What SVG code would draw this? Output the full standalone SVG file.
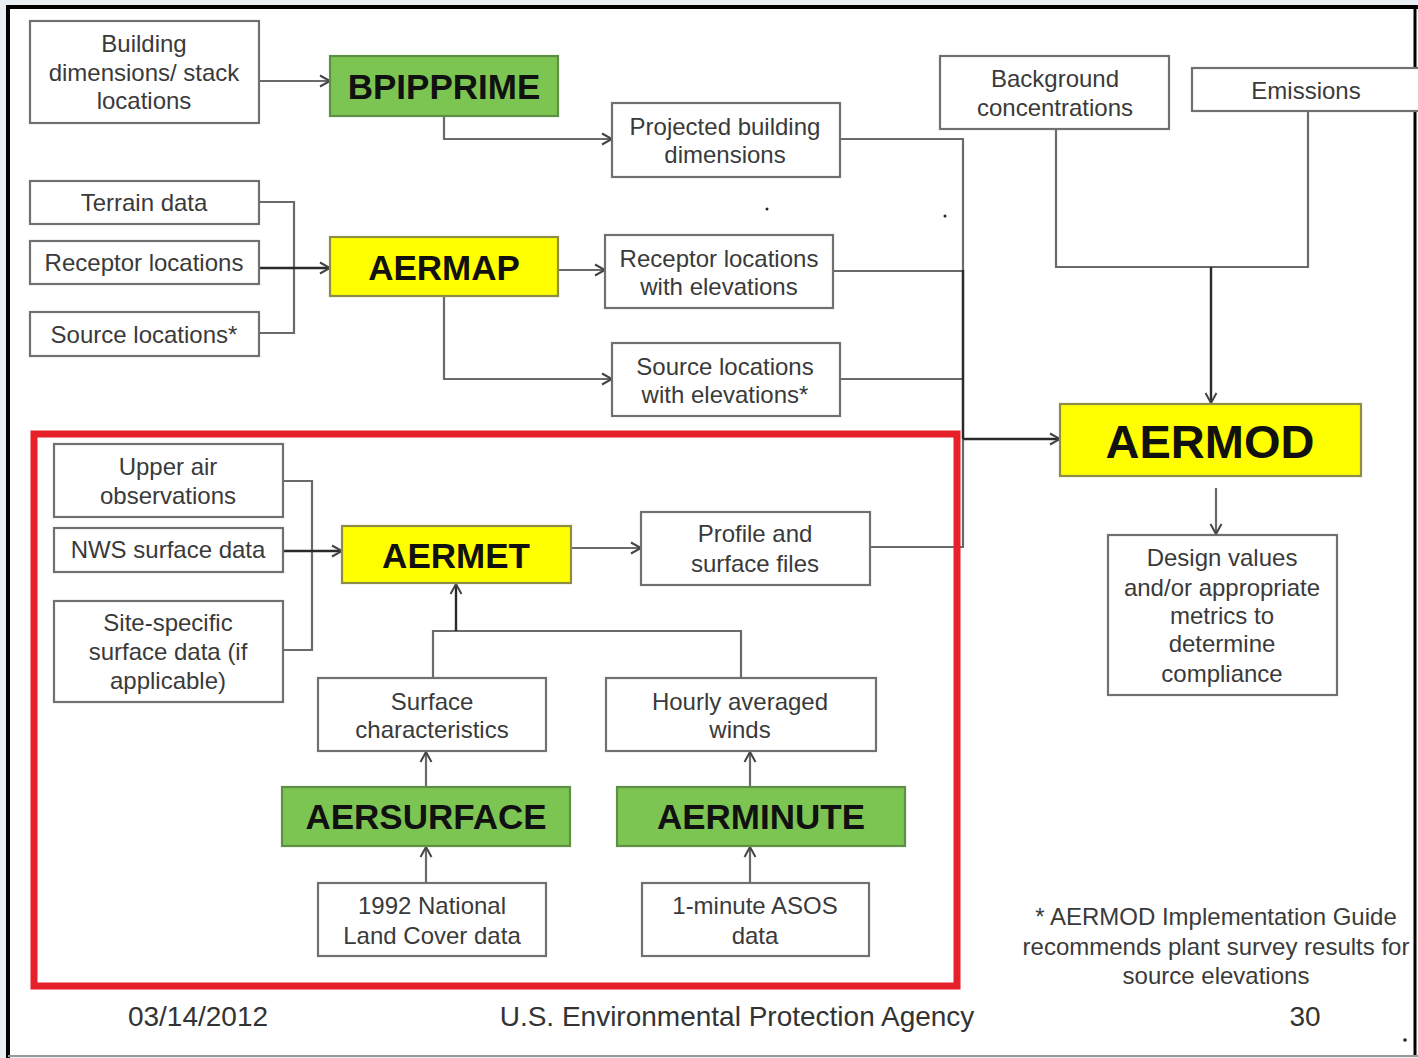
<svg xmlns="http://www.w3.org/2000/svg" width="1418" height="1058" viewBox="0 0 1418 1058">
<defs>
<style>
.box{fill:#fff;stroke:#707070;stroke-width:2.2}
.green{fill:#7cc552;stroke:#5f8f45;stroke-width:2.2}
.yellow{fill:#ffff00;stroke:#8d8d45;stroke-width:2.2}
.t{font-family:"Liberation Sans",Arial,sans-serif;font-size:24px;fill:#3a3a3a;text-anchor:middle}
.b{font-family:"Liberation Sans",Arial,sans-serif;font-size:35px;font-weight:bold;fill:#111;text-anchor:middle}
.ln{fill:none;stroke:#6a6a6a;stroke-width:2.2}
.dk{fill:none;stroke:#2a2a2a;stroke-width:2.4}
.f{font-family:"Liberation Sans",Arial,sans-serif;font-size:28px;fill:#333;text-anchor:middle}
</style>
<marker id="ar" markerUnits="userSpaceOnUse" markerWidth="14" markerHeight="14" refX="12" refY="7" orient="auto">
<path d="M2,1.5 L12,7 L2,12.5" fill="none" stroke="#444" stroke-width="2"/>
</marker>
</defs>
<rect x="0" y="0" width="1418" height="1058" fill="#e9eef3"/>
<rect x="8" y="7" width="1410" height="1048" fill="#fff"/>
<line x1="8" y1="5" x2="8" y2="1058" stroke="#000" stroke-width="4"/>
<line x1="6" y1="7" x2="1418" y2="7" stroke="#000" stroke-width="4"/>
<line x1="1415" y1="5" x2="1415" y2="1055" stroke="#000" stroke-width="3"/>
<line x1="8" y1="1056" x2="1418" y2="1056" stroke="#999" stroke-width="2"/>

<g id="connectors">
<path class="ln" d="M259,81 H330" marker-end="url(#ar)"/>
<path class="ln" d="M444,116 V139 H612" marker-end="url(#ar)"/>
<path class="ln" d="M259,202 H294 V333 H259"/>
<path class="dk" d="M259,268 H330" marker-end="url(#ar)"/>
<path class="ln" d="M558,270 H605" marker-end="url(#ar)"/>
<path class="ln" d="M444,296 V379 H612" marker-end="url(#ar)"/>
<path class="ln" d="M840,139 H963 V547 H870"/>
<path class="ln" d="M834,271 H963"/>
<path class="ln" d="M840,379 H963"/>
<path class="dk" d="M963,270 V439"/>
<path class="dk" d="M963,439 H1060" marker-end="url(#ar)"/>
<path class="ln" d="M1056,129 V267 H1308 V111"/>
<path class="dk" d="M1211,267 V403" marker-end="url(#ar)"/>
<path class="ln" d="M1216,488 V534" marker-end="url(#ar)"/>
<path class="ln" d="M283,481 H312 V650 H283"/>
<path class="dk" d="M283,551 H342" marker-end="url(#ar)"/>
<path class="ln" d="M571,548 H641" marker-end="url(#ar)"/>
<path class="ln" d="M433,678 V631 H741 V678"/>
<path class="dk" d="M456,631 V584" marker-end="url(#ar)"/>
<path class="ln" d="M426,787 V752" marker-end="url(#ar)"/>
<path class="ln" d="M426,883 V847" marker-end="url(#ar)"/>
<path class="ln" d="M750,787 V752" marker-end="url(#ar)"/>
<path class="ln" d="M750,883 V847" marker-end="url(#ar)"/>
</g>

<g id="building">
<rect class="box" x="30" y="21" width="229" height="102"/>
<text class="t" x="144" y="51.5">Building</text>
<text class="t" x="144" y="80.5">dimensions/ stack</text>
<text class="t" x="144" y="108.5">locations</text>
</g>
<g id="bpipprime">
<rect class="green" x="330" y="56" width="228" height="60"/>
<text class="b" x="444" y="98.5">BPIPPRIME</text>
</g>
<g id="projected">
<rect class="box" x="612" y="103" width="228" height="74"/>
<text class="t" x="725" y="134.5">Projected building</text>
<text class="t" x="725" y="162.5">dimensions</text>
</g>
<g id="terrain">
<rect class="box" x="30" y="181" width="229" height="43"/>
<text class="t" x="144" y="210.5">Terrain data</text>
</g>
<g id="receptor">
<rect class="box" x="30" y="241" width="229" height="43"/>
<text class="t" x="144" y="270.5">Receptor locations</text>
</g>
<g id="source">
<rect class="box" x="30" y="312" width="229" height="44"/>
<text class="t" x="144" y="342.5">Source locations*</text>
</g>
<g id="aermap">
<rect class="yellow" x="330" y="237" width="228" height="59"/>
<text class="b" x="444" y="279.5">AERMAP</text>
</g>
<g id="receptor-elev">
<rect class="box" x="605" y="235" width="228" height="73"/>
<text class="t" x="719" y="266.5">Receptor locations</text>
<text class="t" x="719" y="294.5">with elevations</text>
</g>
<g id="source-elev">
<rect class="box" x="612" y="343" width="228" height="73"/>
<text class="t" x="725" y="374.5">Source locations</text>
<text class="t" x="725" y="402.5">with elevations*</text>
</g>
<g id="background">
<rect class="box" x="940" y="56" width="229" height="73"/>
<text class="t" x="1055" y="86.5">Background</text>
<text class="t" x="1055" y="115.5">concentrations</text>
</g>
<g id="emissions">
<rect class="box" x="1192" y="68" width="240" height="43"/>
<text class="t" x="1306" y="98.5">Emissions</text>
</g>
<g id="aermod">
<rect class="yellow" x="1060" y="404" width="301" height="72"/>
<text class="b" x="1210" y="457.5" style="font-size:47px">AERMOD</text>
</g>
<g id="design">
<rect class="box" x="1108" y="535" width="229" height="160"/>
<text class="t" x="1222" y="565.5">Design values</text>
<text class="t" x="1222" y="595.5">and/or appropriate</text>
<text class="t" x="1222" y="623.5">metrics to</text>
<text class="t" x="1222" y="651.5">determine</text>
<text class="t" x="1222" y="681.5">compliance</text>
</g>
<g id="upper-air">
<rect class="box" x="54" y="444" width="229" height="73"/>
<text class="t" x="168" y="474.5">Upper air</text>
<text class="t" x="168" y="503.5">observations</text>
</g>
<g id="nws">
<rect class="box" x="54" y="528" width="229" height="44"/>
<text class="t" x="168" y="557.5">NWS surface data</text>
</g>
<g id="site-specific">
<rect class="box" x="54" y="601" width="229" height="101"/>
<text class="t" x="168" y="630.5">Site-specific</text>
<text class="t" x="168" y="659.5">surface data (if</text>
<text class="t" x="168" y="688.5">applicable)</text>
</g>
<g id="aermet">
<rect class="yellow" x="342" y="526" width="229" height="57"/>
<text class="b" x="456" y="567.5">AERMET</text>
</g>
<g id="profile">
<rect class="box" x="641" y="512" width="229" height="73"/>
<text class="t" x="755" y="541.5">Profile and</text>
<text class="t" x="755" y="571.5">surface files</text>
</g>
<g id="surface-char">
<rect class="box" x="318" y="678" width="228" height="73"/>
<text class="t" x="432" y="709.5">Surface</text>
<text class="t" x="432" y="737.5">characteristics</text>
</g>
<g id="hourly">
<rect class="box" x="606" y="678" width="270" height="73"/>
<text class="t" x="740" y="709.5">Hourly averaged</text>
<text class="t" x="740" y="737.5">winds</text>
</g>
<g id="aersurface">
<rect class="green" x="282" y="787" width="288" height="59"/>
<text class="b" x="426" y="828.5">AERSURFACE</text>
</g>
<g id="aerminute">
<rect class="green" x="617" y="787" width="288" height="59"/>
<text class="b" x="761" y="828.5">AERMINUTE</text>
</g>
<g id="nlcd">
<rect class="box" x="318" y="883" width="228" height="73"/>
<text class="t" x="432" y="913.5">1992 National</text>
<text class="t" x="432" y="943.5">Land Cover data</text>
</g>
<g id="asos">
<rect class="box" x="642" y="883" width="227" height="73"/>
<text class="t" x="755" y="913.5">1-minute ASOS</text>
<text class="t" x="755" y="943.5">data</text>
</g>

<rect x="34" y="434" width="923" height="552" fill="none" stroke="#e8202a" stroke-width="7"/>

<g id="footnote">
<text class="t" x="1216" y="924.5">* AERMOD Implementation Guide</text>
<text class="t" x="1216" y="954.5">recommends plant survey results for</text>
<text class="t" x="1216" y="983.5">source elevations</text>
</g>
<g id="footer">
<text class="f" x="198" y="1026">03/14/2012</text>
<text class="f" x="737" y="1026">U.S. Environmental Protection Agency</text>
<text class="f" x="1305" y="1026">30</text>
</g>
<circle cx="767" cy="209" r="1.5" fill="#222"/>
<circle cx="945" cy="216" r="1.5" fill="#222"/>
<circle cx="1405" cy="1040" r="1.8" fill="#222"/>
</svg>
